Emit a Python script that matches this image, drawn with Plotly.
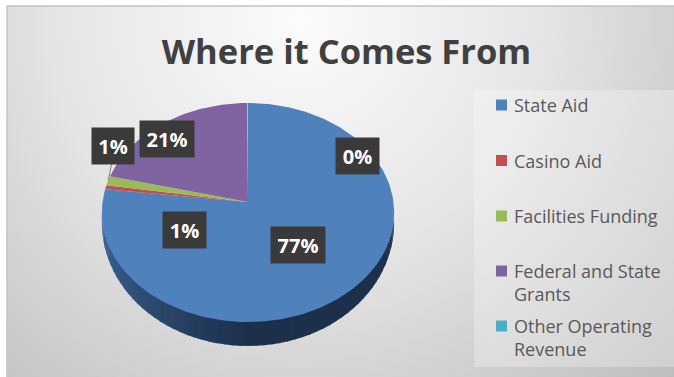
import base64
import numpy as np
import plotly.graph_objects as go

W, H = 674, 377

categories = ["State Aid", "Casino Aid", "Facilities Funding", "Federal and State Grants", "Other Operating Revenue"]
shares = [76.9, 0.6, 1.4, 21.0, 0.1]
percent_labels = ["77%", "1%", "1%", "21%", "0%"]
colors = ["#4f81bd", "#c0504d", "#9bbb59", "#8064a2", "#4bacc6"]
key_names = ["State Aid", "Casino Aid", "Facilities Funding", "Federal and State<br>Grants", "Other Operating<br>Revenue"]
key_rows = [105, 160.5, 216, 271, 326]
label_boxes = [(298, 245, 54), (184.5, 229.5, 43), (113, 146, 42), (167, 138.5, 54), (357.5, 156, 43)]

# Perspective disc: apex position, half-axes, depth of the rim
CX, CY = 248, 202
AX, AY, PERSP = 145.5, 108.5, 0.096
RIM = 24


def project(theta):
    u, v = np.sin(theta), -np.cos(theta)
    scale = 1 - PERSP * v
    return CX + AX * u / scale, CY + AY * v / scale


def rim_depth(theta):
    return RIM * (0.35 + 0.65 * -np.cos(theta))


def mix(a, b, t):
    ca = [int(a[i:i + 2], 16) for i in (1, 3, 5)]
    cb = [int(b[i:i + 2], 16) for i in (1, 3, 5)]
    return "rgb(%d,%d,%d)" % tuple(round(x + (y - x) * t) for x, y in zip(ca, cb))


background_svg = f"""<svg xmlns='http://www.w3.org/2000/svg' width='{W}' height='{H}'>
<defs><radialGradient id='g' gradientUnits='userSpaceOnUse' cx='300' cy='20' r='520'>
<stop offset='0' stop-color='#fbfbfb'/><stop offset='0.45' stop-color='#e6e6e6'/>
<stop offset='1' stop-color='#bdbdbd'/></radialGradient></defs>
<rect x='7' y='6' width='680' height='390' fill='url(#g)' stroke='#c4c4c4' stroke-width='1.5'/>
<rect x='474' y='90' width='200' height='277' fill='#ffffff' fill-opacity='0.28'/>
</svg>"""
background_uri = "data:image/svg+xml;base64," + base64.b64encode(background_svg.encode()).decode()

fig = go.Figure()

# Rim of the disc, shaded from lit left edge to dark front and right
rim_angles = np.radians(np.linspace(98, 264, 60))
for a0, a1 in zip(rim_angles[:-1], rim_angles[1:]):
    arc = np.linspace(a0, a1 + 0.01, 4)
    xs0, ys0 = project(arc)
    t = (a1 - rim_angles[0]) / (rim_angles[-1] - rim_angles[0])
    shade = 1 - 1.9 * (t - 0.5) if t > 0.5 else 1.0
    color = mix("#3f6a9e", "#1c304b", min(1, max(0, shade)))
    lower = ys0 + rim_depth(arc)
    fig.add_trace(go.Scatter(
        x=np.r_[xs0, xs0[::-1]], y=np.r_[ys0 - 1, lower[::-1]],
        mode="lines", fill="toself", fillcolor=color, line=dict(width=0, color=color),
        hoverinfo="skip", showlegend=False,
    ))

# Slices, clockwise from twelve o'clock
edges = np.cumsum([0] + shares) / sum(shares) * 2 * np.pi
for i, name in enumerate(categories):
    n = max(3, int(shares[i] * 3))
    xs, ys = project(np.linspace(edges[i], edges[i + 1], n))
    fig.add_trace(go.Scatter(
        x=np.r_[CX, xs, CX], y=np.r_[CY, ys, CY],
        mode="lines", fill="toself", fillcolor=colors[i], line=dict(width=0, color=colors[i]),
        name=name, hoverinfo="name", showlegend=False,
    ))

# Leader line for the small facilities slice
lx, ly = project((edges[2] + edges[3]) / 2)
fig.add_trace(go.Scatter(x=[lx, 112], y=[ly, 162], mode="lines",
                         line=dict(color="#7f7f7f", width=1), hoverinfo="skip", showlegend=False))

annotations = []
for (x, y, width), text in zip(label_boxes, percent_labels):
    annotations.append(dict(
        x=x, y=y, xref="x", yref="y", text=f"<b>{text}</b>", showarrow=False,
        font=dict(family="Open Sans", size=20, color="#ffffff"),
        bgcolor="#3a3a3a", borderpad=0, width=width, height=36, valign="middle",
    ))

# Colour key: swatch beside each name, rows at an even pitch
for i, name in enumerate(key_names):
    fig.add_trace(go.Scatter(
        x=[501.5], y=[key_rows[i]], mode="markers", name=categories[i], hoverinfo="name", showlegend=False,
        marker=dict(symbol="square", size=11, color=colors[i]),
    ))
    annotations.append(dict(
        x=513, y=key_rows[i] - 13, xref="x", yref="y", xanchor="left", yanchor="top", align="left",
        text=name, showarrow=False, borderpad=0,
        font=dict(family="Open Sans", size=18, color="#595959"),
    ))

fig.update_layout(
    width=W, height=H, margin=dict(l=0, r=0, t=0, b=0),
    paper_bgcolor="#ffffff", plot_bgcolor="rgba(0,0,0,0)",
    xaxis=dict(range=[0, W], visible=False, fixedrange=True),
    yaxis=dict(range=[H, 0], visible=False, fixedrange=True),
    images=[dict(source=background_uri, xref="x", yref="y", x=0, y=0, sizex=W, sizey=H,
                 sizing="stretch", layer="below", xanchor="left", yanchor="top")],
    title=dict(text="<b>Where it Comes From</b>", x=346.5 / W, y=1 - 52 / H, xanchor="center", yanchor="middle",
               font=dict(family="Open Sans", size=34.5, color="#404040")),
    annotations=annotations,
    showlegend=False,
)

fig.write_html("out.html", config={"displayModeBar": False})
